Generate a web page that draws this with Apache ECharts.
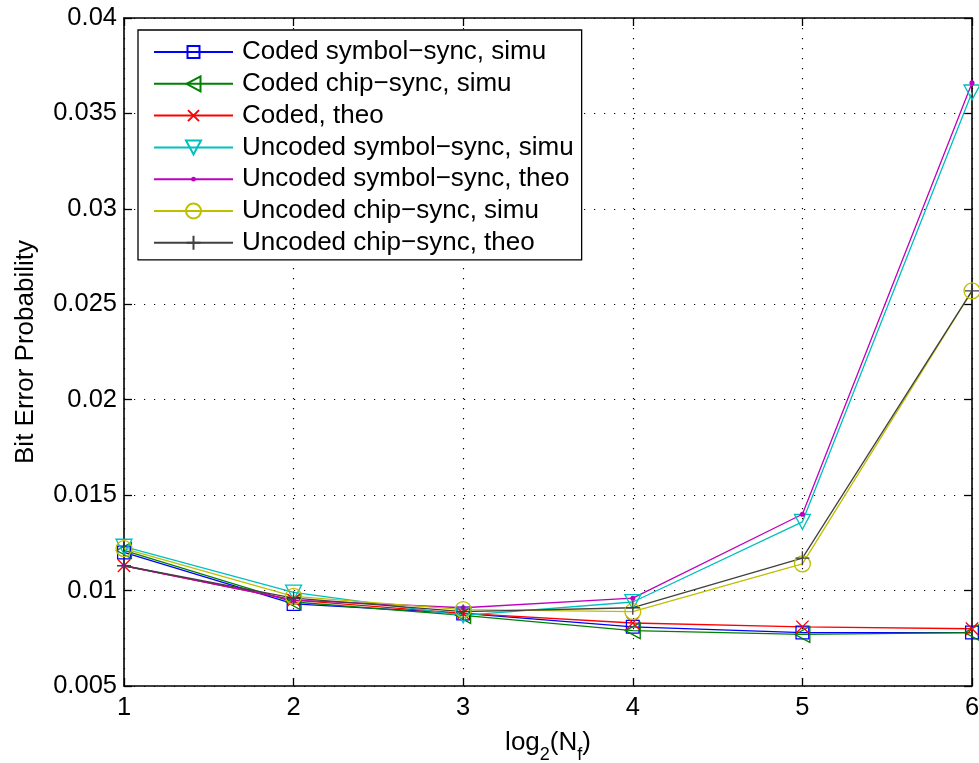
<!DOCTYPE html>
<html><head><meta charset="utf-8">
<script src="https://cdn.jsdelivr.net/npm/echarts@6/dist/echarts.min.js"></script>
<style>html,body{margin:0;padding:0;background:#fff}#c{width:979px;height:763px}</style>
</head><body><div id="c"></div>
<script>
const xCategories = [1, 2, 3, 4, 5, 6];
const codedSymbolSim = [0.0120, 0.0093, 0.0088, 0.0081, 0.0078, 0.0078];
const codedChipSim = [0.0121, 0.0094, 0.0087, 0.0079, 0.0077, 0.0078];
const codedTheo = [0.0113, 0.0095, 0.0088, 0.0083, 0.0081, 0.0080];
const uncodedSymbolSim = [0.0123, 0.0099, 0.0087, 0.0094, 0.0136, 0.0361];
const uncodedSymbolTheo = [0.0113, 0.0095, 0.0091, 0.0096, 0.0140, 0.0366];
const uncodedChipSim = [0.0122, 0.0097, 0.0090, 0.0089, 0.0114, 0.0257];
const uncodedChipTheo = [0.0113, 0.0096, 0.0089, 0.0091, 0.0117, 0.0257];
const yTicks = [0.005, 0.01, 0.015, 0.02, 0.025, 0.03, 0.035, 0.04];
const seriesNames = ['Coded symbol\u2212sync, simu','Coded chip\u2212sync, simu','Coded, theo',
  'Uncoded symbol\u2212sync, simu','Uncoded symbol\u2212sync, theo','Uncoded chip\u2212sync, simu','Uncoded chip\u2212sync, theo'];

const dataSets = [codedSymbolSim, codedChipSim, codedTheo, uncodedSymbolSim, uncodedSymbolTheo, uncodedChipSim, uncodedChipTheo];
const colors = ['#0000ff','#008000','#ff0000','#00bfbf','#bf00bf','#bfbf00','#404040'];
// symbol paths padded with invisible move points so legend icons get MATLAB-like relative sizes
const symbols = [
  {s:'path://M0,0M16,16M2,2H14V14H2Z', size:17, fill:false},
  {s:'path://M0,0M16,16M1,8L15,0.5V15.5Z', size:17, fill:false},
  {s:'path://M0,0M16,16M2.5,2.5L13.5,13.5M13.5,2.5L2.5,13.5', size:18, fill:false},
  {s:'path://M0,0M16,16M0.5,1H15.5L8,15Z', size:17, fill:false},
  {s:'path://M0,0M16,16M8,8m-2.4,0a2.4,2.4 0 1,0 4.8,0a2.4,2.4 0 1,0 -4.8,0Z', size:17, fill:true},
  {s:'path://M0,0M16,16M8,8m-7.5,0a7.5,7.5 0 1,0 15,0a7.5,7.5 0 1,0 -15,0Z', size:17, fill:false},
  {s:'path://M0,0M16,16M8,1V15M1,8H15', size:16, fill:false}
];

const series = seriesNames.map((n,i)=>({
  name:n, type:'line',
  data: dataSets[i].map((v,j)=>[xCategories[j], v]),
  symbol: symbols[i].s, symbolSize: symbols[i].size, symbolKeepAspect:true,
  showAllSymbol:true, clip:false,
  lineStyle:{color:colors[i], width:1.3},
  itemStyle:{color: symbols[i].fill ? colors[i] : 'rgba(0,0,0,0)', borderColor:colors[i], borderWidth: symbols[i].fill ? 0 : 1.3},
  emphasis:{disabled:true},
  animation:false, z: 10
}));

const chart = echarts.init(document.getElementById('c'), null, {renderer:'canvas'});
const font = 'Liberation Sans, Arial, Helvetica, sans-serif';
const tickFont = 25.5;
const axisLineStyle = {color:'#000', width:1.6};
chart.setOption({
  backgroundColor:'#fff',
  animation:false,
  grid:{left:124, right:7, top:18, bottom:77, containLabel:false, outerBoundsMode:'none'},
  legend:{
    orient:'vertical', left:138, top:30, itemWidth:79, itemHeight:20, itemGap:5.8,
    padding:[9,8,4,15], backgroundColor:'#fff', borderColor:'#000', borderWidth:1.3,
    textStyle:{fontFamily:font, fontSize:26, lineHeight:26, color:'#000', padding:[0,0,0,4]},
    data: seriesNames
  },
  xAxis:[{
    type:'value', min:1, max:6, interval:1, position:'bottom',
    axisLine:{onZero:false, lineStyle:axisLineStyle},
    axisTick:{inside:true, length:8, lineStyle:{color:'#000', width:1.3}},
    axisLabel:{fontFamily:font, fontSize:tickFont, color:'#000', margin:9},
    splitLine:{show:true, lineStyle:{color:'#000', type:[1.2,8.8], width:1.2}},
    name:'{a|log}{s|2}{a|(N}{s|f}{a|)}', nameLocation:'middle', nameGap:42,
    nameTextStyle:{fontFamily:font, rich:{
      a:{fontFamily:font, fontSize:26, color:'#000', verticalAlign:'bottom', lineHeight:28},
      s:{fontFamily:font, fontSize:18, color:'#000', verticalAlign:'bottom', lineHeight:28, padding:[0,0,-8,0]}
    }}
  },{
    type:'value', min:1, max:6, interval:1, position:'top',
    axisLine:{onZero:false, lineStyle:axisLineStyle},
    axisTick:{inside:true, length:8, lineStyle:{color:'#000', width:1.3}},
    axisLabel:{show:false}, splitLine:{show:false}
  }],
  yAxis:[{
    type:'value', min:0.005, max:0.04, interval:0.005, position:'left',
    axisLine:{show:true, onZero:false, lineStyle:axisLineStyle},
    axisTick:{show:true, inside:true, length:8, lineStyle:{color:'#000', width:1.3}},
    axisLabel:{fontFamily:font, fontSize:tickFont, color:'#000', margin:7,
      formatter:v=>String(parseFloat(v.toFixed(4)))},
    splitLine:{show:true, lineStyle:{color:'#000', type:[1.2,8.8], width:1.2}},
    name:'Bit Error Probability', nameLocation:'middle', nameGap:85, nameRotate:90,
    nameTextStyle:{fontFamily:font, fontSize:26, color:'#000'}
  },{
    type:'value', min:0.005, max:0.04, interval:0.005, position:'right',
    axisLine:{show:true, onZero:false, lineStyle:axisLineStyle},
    axisTick:{show:true, inside:true, length:8, lineStyle:{color:'#000', width:1.3}},
    axisLabel:{show:false}, splitLine:{show:false}
  }],
  series: series
});
</script></body></html>
